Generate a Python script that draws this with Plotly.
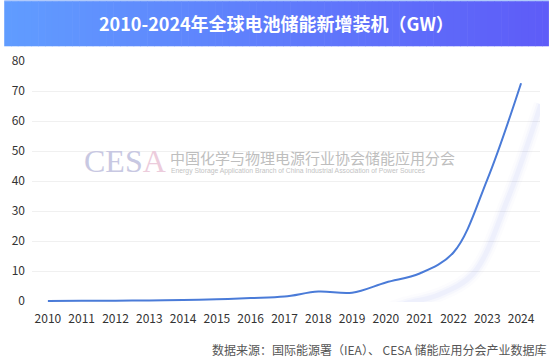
import plotly.graph_objects as go

years = list(range(2010, 2025))
capacity_gw = [0.05, 0.1, 0.15, 0.2, 0.4, 0.6, 1.0, 1.5, 3.2, 2.8, 6.2, 9.2, 16.2, 40.5, 72.6]
y_ticks = [0, 10, 20, 30, 40, 50, 60, 70, 80]

title_text = "2010-2024年全球电池储能新增装机（GW）"
source_text = "数据来源：国际能源署（IEA）、 CESA 储能应用分会产业数据库"
wm_cn = "中国化学与物理电源行业协会储能应用分会"
wm_en = "Energy Storage Application Branch of China Industrial Association of Power Sources"

W, H = 554, 360
L, R = 28, 540
T, B = 60.7, 301.6
FONT = "Noto Sans CJK SC, Noto Sans, sans-serif"

def px(x):
    return (x - L) / (R - L)

def py(y):
    return (B - y) / (B - T)

x_range = [2009.53, 2024.56]
y_range = [-0.3, 80]
# shadow offset in axis units (px offset converted)
dx = 20 / ((R - L) / (x_range[1] - x_range[0]))
dy = 21 / ((B - T) / (y_range[1] - y_range[0]))

fig = go.Figure()

# shadow layers (same data on offset overlay axes)
for w, a in [(14, 0.025), (9, 0.04), (5, 0.055)]:
    fig.add_trace(go.Scatter(
        x=years, y=capacity_gw, mode="lines", xaxis="x2", yaxis="y2",
        line=dict(color=f"rgba(110,125,230,{a})", width=w, shape="spline"),
        hoverinfo="skip", showlegend=False))

fig.add_trace(go.Scatter(
    x=years, y=capacity_gw, mode="lines",
    line=dict(color="#4a7bd8", width=2, shape="spline"),
    showlegend=False))

# gradient header band
n = 80
c0 = (96, 156, 255)
c1 = (94, 92, 248)
band_x0, band_x1, band_y0, band_y1 = 0, 549, 1, 46
shapes = [dict(type="rect", xref="paper", yref="paper",
               x0=px(band_x0), x1=px(band_x1), y0=py(1.5), y1=py(0),
               fillcolor="rgb(150,185,250)", line=dict(width=0), layer="below")]
for i in range(n):
    t = i / (n - 1)
    col = tuple(round(c0[k] + (c1[k] - c0[k]) * t) for k in range(3))
    x0 = band_x0 + (band_x1 - band_x0) * i / n
    x1 = band_x0 + (band_x1 - band_x0) * (i + 1) / n + (0.6 if i < n - 1 else 0)
    shapes.append(dict(type="rect", xref="paper", yref="paper",
                       x0=px(x0), x1=px(x1), y0=py(band_y1), y1=py(band_y0),
                       fillcolor=f"rgb{col}", line=dict(width=0), layer="below"))

annotations = [
    dict(text=f"<b>{title_text}</b>", x=px(274), y=py(23), xref="paper", yref="paper",
         showarrow=False, font=dict(family=FONT, size=18, color="white"),
         xanchor="center", yanchor="middle"),
    dict(text=source_text, x=px(548), y=py(349), xref="paper", yref="paper",
         showarrow=False, font=dict(family=FONT, size=12, color="#555555"),
         xanchor="right", yanchor="middle"),
    dict(text="<span style='color:rgb(200,200,226)'>CES</span><span style='color:rgb(236,204,220)'>A</span>",
         x=px(78), y=py(161), xref="paper", yref="paper", showarrow=False,
         font=dict(family="Liberation Serif, serif", size=32),
         xanchor="left", yanchor="middle"),
    dict(text=wm_cn, x=px(165), y=py(157), xref="paper", yref="paper", showarrow=False,
         font=dict(family=FONT, size=15, color="rgb(190,190,190)"),
         xanchor="left", yanchor="middle"),
    dict(text=wm_en, x=px(166), y=py(171), xref="paper", yref="paper", showarrow=False,
         font=dict(family="Liberation Sans, Arial, sans-serif", size=6.8, color="rgb(195,195,195)"),
         xanchor="left", yanchor="middle"),
]

fig.update_layout(
    width=W, height=H,
    margin=dict(l=L, r=W - R, t=T, b=H - B, pad=0),
    paper_bgcolor="white", plot_bgcolor="white",
    shapes=shapes, annotations=annotations,
    xaxis=dict(range=x_range, tickmode="array", tickvals=years,
               ticktext=[str(y) for y in years], showgrid=False, zeroline=False,
               showline=False, ticks="", tickfont=dict(family=FONT, size=12, color="#333333"),
               ticklabelstandoff=8),
    yaxis=dict(range=y_range, tickmode="array", tickvals=y_ticks,
               showgrid=True, gridcolor="#f0f0f0", gridwidth=1, zeroline=False,
               showline=False, ticks="", tickfont=dict(family=FONT, size=12, color="#333333"),
               ticklabelstandoff=6),
    xaxis2=dict(range=[x_range[0] - dx, x_range[1] - dx], overlaying="x",
                visible=False, matches=None),
    yaxis2=dict(range=[y_range[0] + dy, y_range[1] + dy], overlaying="y",
                visible=False),
)

fig.write_html("out.html", config={"displayModeBar": False},
               post_script="document.body.style.margin='0';document.body.style.padding='0';")
